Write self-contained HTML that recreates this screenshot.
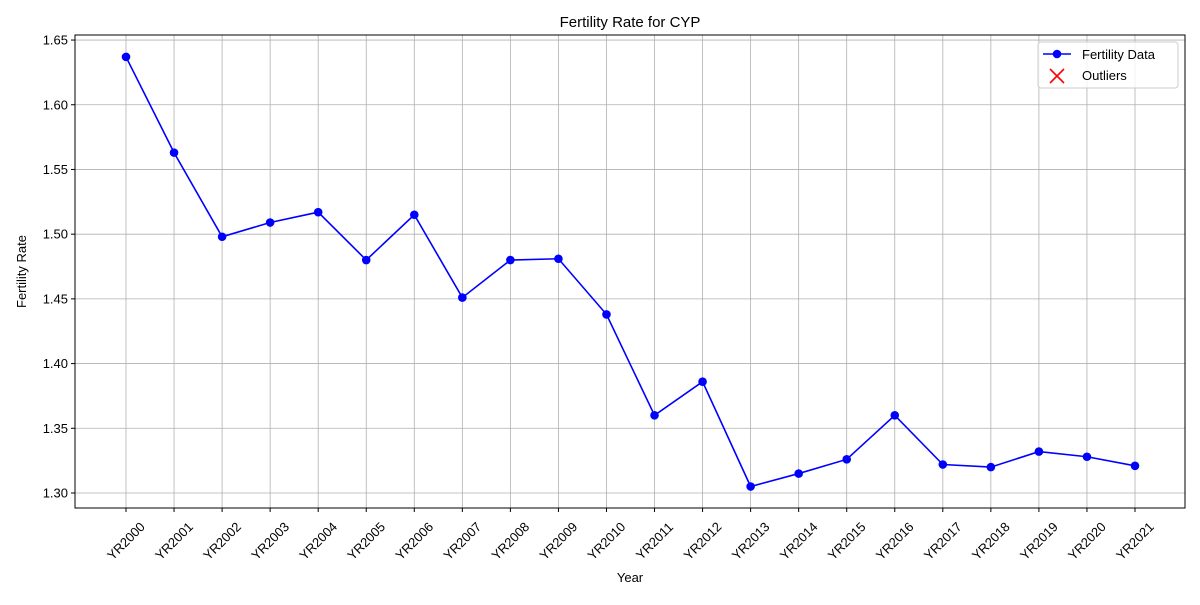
<!DOCTYPE html>
<html><head><meta charset="utf-8"><style>
html,body{margin:0;padding:0;background:#fff;}
svg text{font-family:"Liberation Sans","DejaVu Sans",sans-serif;fill:#000;}
</style></head><body>
<svg id="chart" width="1200" height="600" xmlns="http://www.w3.org/2000/svg"></svg>
<script>
const categories = ["YR2000","YR2001","YR2002","YR2003","YR2004","YR2005","YR2006","YR2007","YR2008","YR2009","YR2010","YR2011","YR2012","YR2013","YR2014","YR2015","YR2016","YR2017","YR2018","YR2019","YR2020","YR2021"];
const fertility = [1.637,1.563,1.498,1.509,1.517,1.480,1.515,1.451,1.480,1.481,1.438,1.360,1.386,1.305,1.315,1.326,1.360,1.322,1.320,1.332,1.328,1.321];
const yTicks = [1.30,1.35,1.40,1.45,1.50,1.55,1.60,1.65];
const yTickLabels = ["1.30","1.35","1.40","1.45","1.50","1.55","1.60","1.65"];

const NS="http://www.w3.org/2000/svg";
const svg=document.getElementById('chart');
const L=75,R=1185,T=35,B=508;
const yMin=1.2884,yMax=1.6539;
const x0=126,x1=1135;
function xs(i){return x0+(x1-x0)*i/(categories.length-1);}
function ys(v){return B-(v-yMin)/(yMax-yMin)*(B-T);}
function mk(tag,attrs,parent){const e=document.createElementNS(NS,tag);for(const k in attrs)e.setAttribute(k,attrs[k]);(parent||svg).appendChild(e);return e;}

const grid=mk('g',{});


categories.forEach((c,i)=>{mk('line',{x1:xs(i),x2:xs(i),y1:T,y2:B,stroke:'#b0b0b0','stroke-width':0.8},grid);});
yTicks.forEach(v=>{mk('line',{x1:L,x2:R,y1:ys(v),y2:ys(v),stroke:'#b0b0b0','stroke-width':0.8},grid);});

const frame=mk('rect',{x:L,y:T,width:R-L,height:B-T,fill:'none',stroke:'#000','stroke-width':1});



const yAxis=mk('g',{});


yTicks.forEach((v,i)=>{
  const y=ys(v);
  mk('line',{x1:L-4,x2:L,y1:y,y2:y,stroke:'#000'},yAxis);
  const t=mk('text',{x:L-7,y:y+4.5,'text-anchor':'end','font-size':13},yAxis);
  t.textContent=yTickLabels[i];
  
  
});
const xAxis=mk('g',{});


categories.forEach((c,i)=>{
  const x=xs(i);
  mk('line',{x1:x,x2:x,y1:B,y2:B+4,stroke:'#000'},xAxis);
  const cy=B+33;
  const t=mk('text',{x:x,y:cy+4.5,'text-anchor':'middle','font-size':13,transform:`rotate(-45 ${x} ${cy})`},xAxis);
  t.textContent=c;
  
  
});

const pts=fertility.map((v,i)=>xs(i)+','+ys(v)).join(' ');
const line=mk('polyline',{points:pts,fill:'none',stroke:'#0000ff','stroke-width':1.6});


fertility.forEach((v,i)=>{
  const c=mk('circle',{cx:xs(i),cy:ys(v),r:4.3,fill:'#0000ff'});
  
  
});

const title=mk('text',{x:(L+R)/2,y:27,'text-anchor':'middle','font-size':15});
title.textContent='Fertility Rate for CYP';


const xt=mk('text',{x:(L+R)/2,y:582,'text-anchor':'middle','font-size':13});
xt.textContent='Year';


const yt=mk('text',{x:26,y:(T+B)/2,'text-anchor':'middle','font-size':13,transform:`rotate(-90 26 ${(T+B)/2})`});
yt.textContent='Fertility Rate';



const lg=mk('g',{});


mk('rect',{x:1038,y:42,width:140,height:46,rx:3,fill:'#fff','fill-opacity':0.8,stroke:'#ccc'},lg);
mk('line',{x1:1043,x2:1071,y1:54,y2:54,stroke:'#0000ff','stroke-width':1.6},lg);
mk('circle',{cx:1057,cy:54,r:4.3,fill:'#0000ff'},lg);
const l1=mk('text',{x:1082,y:59,'font-size':13},lg);
l1.textContent='Fertility Data';


mk('line',{x1:1050,x2:1064,y1:69,y2:83,stroke:'#ff0000','stroke-width':1.6},lg);
mk('line',{x1:1050,x2:1064,y1:83,y2:69,stroke:'#ff0000','stroke-width':1.6},lg);
const l2=mk('text',{x:1082,y:80,'font-size':13},lg);
l2.textContent='Outliers';


</script>
</body></html>
